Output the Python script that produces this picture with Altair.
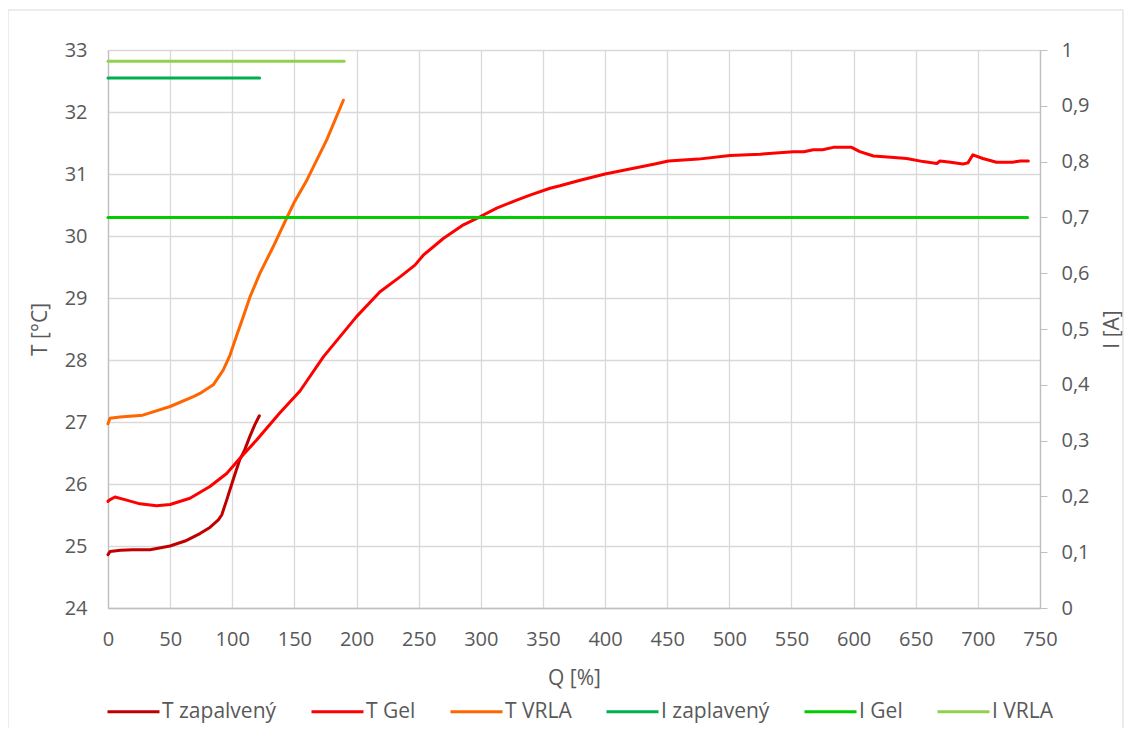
import altair as alt
import pandas as pd

# ---- data ----
q_zap = [0, 1.6, 10, 20, 33.8, 49.9, 62, 74, 82, 88.8, 91.5, 95.5, 98, 102, 106, 110, 114, 118, 121.8]
t_zap = [24.86, 24.91, 24.93, 24.94, 24.94, 25.0, 25.08, 25.2, 25.3, 25.42, 25.5, 25.74, 25.9, 26.15, 26.39, 26.55, 26.76, 26.95, 27.1]

q_gel = [0, 1, 5.6, 15, 25.7, 39, 50, 66, 82, 95.5, 106, 119.6, 138, 154.5, 173.3, 200, 218.9, 235, 247,
         253.7, 269.8, 286, 299.3, 312.8, 328.9, 339.6, 355.7, 363.7, 380, 400, 420, 440, 451, 475, 500.5,
         525, 551.5, 560, 567.6, 575, 583.7, 598.4, 605, 616, 630, 642.7, 656, 667, 669.5, 678, 688, 692,
         696, 704, 715, 728, 734, 740.6]
t_gel = [25.72, 25.74, 25.79, 25.74, 25.68, 25.65, 25.67, 25.77, 25.96, 26.17, 26.41, 26.71, 27.14, 27.5,
         28.05, 28.70, 29.10, 29.34, 29.53, 29.69, 29.96, 30.18, 30.31, 30.45, 30.58, 30.66, 30.77, 30.81,
         30.9, 31.0, 31.08, 31.16, 31.21, 31.24, 31.30, 31.32, 31.36, 31.36, 31.39, 31.39, 31.43, 31.43,
         31.36, 31.29, 31.27, 31.25, 31.2, 31.17, 31.21, 31.19, 31.16, 31.18, 31.31, 31.25, 31.19, 31.19,
         31.21, 31.21]

q_vrla = [0, 1.6, 9.7, 28, 50, 68.7, 74, 84.7, 92.8, 98.2, 103.6, 108.9, 114.3, 122.3, 133, 142.4, 150, 160, 176, 189.4]
t_vrla = [26.97, 27.06, 27.08, 27.11, 27.25, 27.41, 27.46, 27.6, 27.84, 28.08, 28.4, 28.7, 29.02, 29.4, 29.83,
          30.23, 30.55, 30.9, 31.55, 32.19]

q_i_zap = [0, 122]
i_zap = [0.95, 0.95]
q_i_gel = [0, 740]
i_gel = [0.70, 0.70]
q_i_vrla = [0, 190]
i_vrla = [0.98, 0.98]

series = ["T zapalvený", "T Gel", "T VRLA", "I zaplavený", "I Gel", "I VRLA"]
colors = ["#C00000", "#FF0000", "#FF6600", "#00B050", "#00CC00", "#92D050"]

x_ticks = list(range(0, 751, 50))
t_ticks = list(range(24, 34))
i_ticks = [0, 0.1, 0.2, 0.3, 0.4, 0.5, 0.6, 0.7, 0.8, 0.9, 1.0]


def frame(q, v, name):
    return pd.DataFrame({"Q": q, "V": v, "s": name, "o": list(range(len(q)))})


t_df = pd.concat([frame(q_zap, t_zap, series[0]), frame(q_gel, t_gel, series[1]),
                  frame(q_vrla, t_vrla, series[2])], ignore_index=True)
i_df = pd.concat([frame(q_i_zap, i_zap, series[3]), frame(q_i_gel, i_gel, series[4]),
                  frame(q_i_vrla, i_vrla, series[5])], ignore_index=True)

legend = alt.Legend(title=None, orient="none", direction="horizontal", legendX=-2, legendY=634,
                    symbolType="stroke", symbolStrokeWidth=3, symbolSize=2704, columnPadding=28,
                    labelOffset=1, labelFont="Open Sans", labelFontSize=21, labelColor="#595959",
                    padding=0)
color = alt.Color("s:N", scale=alt.Scale(domain=series, range=colors), legend=legend)

xenc = alt.X("Q:Q", scale=alt.Scale(domain=[0, 750], nice=False, zero=False),
             axis=alt.Axis(values=x_ticks, title="Q [%]", ticks=False, tickSize=0, labelPadding=21,
                           labelFlush=False,
                           titleX=466, titleY=70, titleBaseline="middle", titleAlign="center"))

line_kw = dict(strokeWidth=3, strokeCap="round", strokeJoin="round")

t_layer = alt.Chart(t_df).mark_line(**line_kw).encode(
    x=xenc,
    y=alt.Y("V:Q", scale=alt.Scale(domain=[24, 33], nice=False, zero=False),
            axis=alt.Axis(orient="left", values=t_ticks, title="T [°C]", ticks=False, tickSize=0,
                          labelPadding=21, labelFlush=False, grid=True, titleAngle=270, titleX=-68,
                          titleY=279, titleBaseline="middle", titleAlign="center")),
    color=color,
    order="o:Q",
)

i_layer = alt.Chart(i_df).mark_line(**line_kw).encode(
    x=xenc,
    y=alt.Y("V:Q", scale=alt.Scale(domain=[0, 1], nice=False, zero=True),
            axis=alt.Axis(orient="right", values=i_ticks, title="I [A]", ticks=True, tickSize=7,
                          labelPadding=14, labelFlush=False, grid=False, titleAngle=270, titleX=72,
                          titleY=279, titleBaseline="middle", titleAlign="center",
                          labelExpr="replace(format(datum.value, '~g'), '.', ',')")),
    color=color,
    order="o:Q",
)

border = alt.Chart(alt.Data(values=[{}])).mark_rect(
    fill="transparent", stroke="#D9D9D9", strokeWidth=1
).encode(x=alt.value(-100), x2=alt.value(1015), y=alt.value(-40), y2=alt.value(684))

chart = alt.layer(border, t_layer, i_layer).resolve_scale(y="independent").properties(
    width=932, height=558,
    autosize=alt.AutoSizeParams(type="none"),
    padding={"left": 100, "top": 42, "right": 84, "bottom": 120},
    background="white",
).configure_view(strokeWidth=0).configure_axis(
    labelFont="Open Sans", titleFont="Open Sans", labelColor="#595959", titleColor="#595959",
    labelFontSize=20, titleFontSize=21, titleFontWeight="normal",
    domainColor="#BFBFBF", gridColor="#D9D9D9", tickColor="#BFBFBF", gridWidth=1.3, domainWidth=1.3,
)

chart.save("out.html", embed_options={"renderer": "svg", "actions": False})
